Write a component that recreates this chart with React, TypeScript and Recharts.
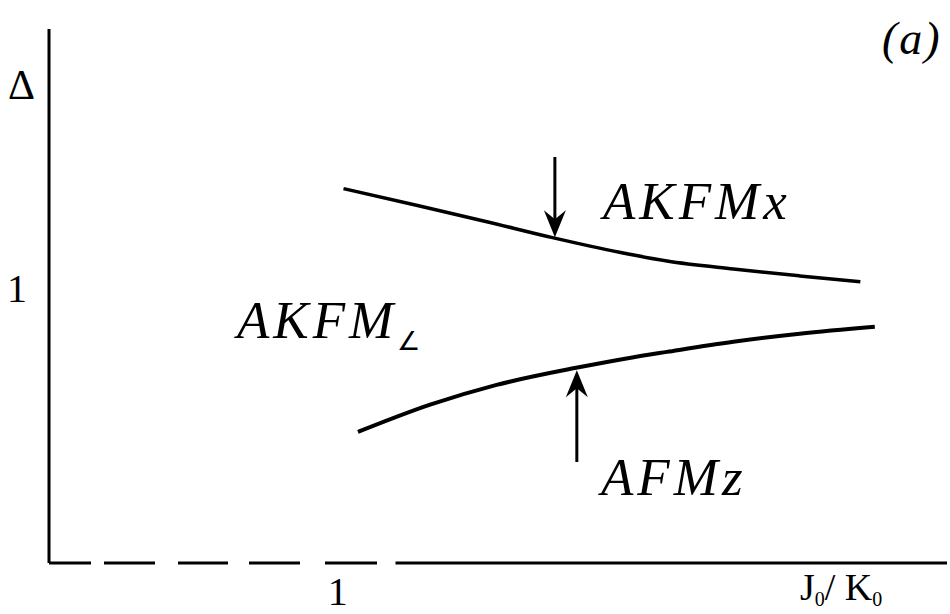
import React from 'react';
import { Line, LineChart, ReferenceDot, ReferenceLine, XAxis, YAxis } from 'recharts';

// phase boundaries Δ(J0/K0)
const upperX = [1.02, 1.28, 1.52, 1.74, 1.98, 2.14, 2.37, 2.6, 2.81];
const upperY = [1.36, 1.298, 1.239, 1.183, 1.128, 1.097, 1.068, 1.043, 1.022];
const lowerX = [1.07, 1.32, 1.55, 1.83, 2.01, 2.14, 2.37, 2.6, 2.86];
const lowerY = [0.476, 0.575, 0.647, 0.71, 0.745, 0.767, 0.804, 0.833, 0.858];

const xTicks = [1];
const yTicks = [1];

// arrows pointing at the two boundaries
const downArrow = { x: 1.752, from: 1.475, to: 1.183 };
const upArrow = { x: 1.828, from: 0.367, to: 0.7 };

const SERIF = 'Liberation Serif, Times New Roman, serif';

const upper = upperX.map((x, i) => ({ x, y: upperY[i] }));
const lower = lowerX.map((x, i) => ({ x, y: lowerY[i] }));

const italic = { fontFamily: SERIF, fontStyle: 'italic' as const };

function headDown(p: any) {
  const { cx, cy } = p;
  return <path d={`M${cx},${cy} L${cx - 11},${cy - 27} L${cx},${cy - 18} L${cx + 11},${cy - 27} Z`} fill="#000" />;
}

function headUp(p: any) {
  const { cx, cy } = p;
  return <path d={`M${cx},${cy} L${cx - 11},${cy + 27} L${cx},${cy + 18} L${cx + 11},${cy + 27} Z`} fill="#000" />;
}

function AxisName(props: any) {
  const { viewBox } = props;
  const x = viewBox.x + viewBox.width - 147;
  const y = viewBox.y + 37;
  return (
    <text x={x} y={y} style={{ fontFamily: SERIF }} fontSize={38} fill="#000">
      J<tspan fontSize={20} dy={6}>0</tspan>
      <tspan dy={-6}>/ K</tspan>
      <tspan fontSize={20} dy={6}>0</tspan>
    </text>
  );
}

export default function App() {
  return (
    <div style={{ position: 'absolute', left: 0, top: 0, background: '#fff' }}>
      <LineChart width={950} height={614} margin={{ top: 29, right: 3, left: 0, bottom: 0 }}>
        <XAxis
          dataKey="x"
          type="number"
          domain={[0, 3.11]}
          ticks={xTicks}
          axisLine={false}
          tickLine={false}
          tickSize={0}
          tickMargin={14}
          height={51}
          tick={{ fontSize: 40, fill: '#000', fontFamily: SERIF }}
          label={AxisName}
        />
        <YAxis
          type="number"
          domain={[0, 1.94]}
          ticks={yTicks}
          width={49}
          tickLine={false}
          tickSize={0}
          tickMargin={22}
          axisLine={{ stroke: '#000', strokeWidth: 3 }}
          tick={{ fontSize: 40, fill: '#000', fontFamily: SERIF }}
        />
        <ReferenceLine
          segment={[{ x: 0, y: 0 }, { x: 1.2, y: 0 }]}
          stroke="#000"
          strokeWidth={3}
          strokeDasharray="42 13 51 23 50 21 51 25 52 19"
        />
        <ReferenceLine segment={[{ x: 1.2, y: 0 }, { x: 3.11, y: 0 }]} stroke="#000" strokeWidth={3} />

        <Line data={upper} dataKey="y" type="monotone" stroke="#000" strokeWidth={3.5} dot={false} isAnimationActive={false} />
        <Line data={lower} dataKey="y" type="monotone" stroke="#000" strokeWidth={4} dot={false} isAnimationActive={false} />

        <ReferenceLine
          segment={[{ x: downArrow.x, y: downArrow.from }, { x: downArrow.x, y: downArrow.to + 0.05 }]}
          stroke="#000"
          strokeWidth={3}
        />
        <ReferenceDot x={downArrow.x} y={downArrow.to} r={0} shape={headDown} />
        <ReferenceLine
          segment={[{ x: upArrow.x, y: upArrow.from }, { x: upArrow.x, y: upArrow.to - 0.05 }]}
          stroke="#000"
          strokeWidth={3}
        />
        <ReferenceDot x={upArrow.x} y={upArrow.to} r={0} shape={headUp} />

        <text x={8} y={99} style={{ fontFamily: SERIF }} fontSize={42} fill="#000">Δ</text>
        <text x={882} y={54} style={italic} fontSize={46} letterSpacing={2} fill="#000">(a)</text>
        <text x={603} y={219} style={italic} fontSize={53} letterSpacing={4} fill="#000">AKFMx</text>
        <text x={237} y={338} style={italic} fontSize={53} letterSpacing={4} fill="#000">
          AKFM<tspan fontSize={26} style={{ fontStyle: 'normal' }} dy={12}>∠</tspan>
        </text>
        <text x={601} y={495} style={italic} fontSize={53} letterSpacing={4} fill="#000">AFMz</text>
      </LineChart>
    </div>
  );
}
